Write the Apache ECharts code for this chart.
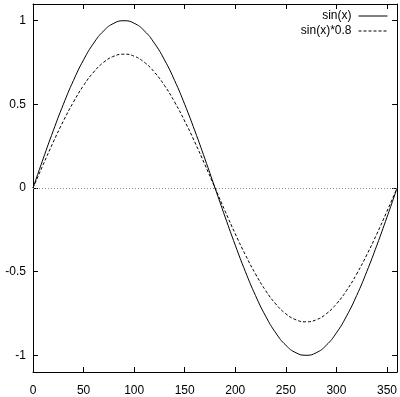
<!DOCTYPE html>
<html>
<head>
<meta charset="utf-8">
<script src="https://cdn.jsdelivr.net/npm/echarts@6/dist/echarts.min.js"></script>
<style>
  html, body { margin: 0; padding: 0; background: #fff; }
  #chart { width: 400px; height: 397px; }
</style>
</head>
<body>
<div id="chart"></div>
<script>
// x in degrees, sampled every 10
const angles = [0, 10, 20, 30, 40, 50, 60, 70, 80, 90, 100, 110, 120, 130, 140, 150, 160, 170, 180,
  190, 200, 210, 220, 230, 240, 250, 260, 270, 280, 290, 300, 310, 320, 330, 340, 350, 360];
const sinValues = [0, 0.174, 0.342, 0.5, 0.643, 0.766, 0.866, 0.94, 0.985, 1, 0.985, 0.94, 0.866, 0.766, 0.643, 0.5, 0.342, 0.174, 0,
  -0.174, -0.342, -0.5, -0.643, -0.766, -0.866, -0.94, -0.985, -1, -0.985, -0.94, -0.866, -0.766, -0.643, -0.5, -0.342, -0.174, 0];
const sin08Values = [0, 0.139, 0.274, 0.4, 0.514, 0.613, 0.693, 0.752, 0.788, 0.8, 0.788, 0.752, 0.693, 0.613, 0.514, 0.4, 0.274, 0.139, 0,
  -0.139, -0.274, -0.4, -0.514, -0.613, -0.693, -0.752, -0.788, -0.8, -0.788, -0.752, -0.693, -0.613, -0.514, -0.4, -0.274, -0.139, 0];
const xTicks = [0, 50, 100, 150, 200, 250, 300, 350];
const yTicks = [-1, -0.5, 0, 0.5, 1];
const seriesNames = ['sin(x)', 'sin(x)*0.8'];

const font = '"Liberation Sans Narrow", "Liberation Sans", Arial, sans-serif';

const toPairs = (vals) => angles.map((a, i) => [a, vals[i]]);

const baseX = {
  type: 'value',
  min: 0,
  max: 360,
  axisLine: { show: true, onZero: false, lineStyle: { color: '#000', width: 1 } },
  axisTick: { show: true, inside: true, length: 5, customValues: xTicks, lineStyle: { color: '#000' } },
  splitLine: { show: false }
};
const baseY = {
  type: 'value',
  min: -1.1,
  max: 1.1,
  axisLine: { show: true, onZero: false, lineStyle: { color: '#000', width: 1 } },
  axisTick: { show: true, inside: true, length: 5, customValues: yTicks, lineStyle: { color: '#000' } },
  splitLine: { show: false }
};

const chart = echarts.init(document.getElementById('chart'));
chart.setOption({
  animation: false,
  backgroundColor: '#fff',
  grid: { left: 33, top: 4, width: 368, height: 368, containLabel: false },
  legend: {
    orient: 'vertical',
    right: 7,
    top: 5,
    align: 'right',
    itemWidth: 29,
    itemHeight: 10,
    itemGap: 3,
    itemStyle: { opacity: 0 },
    lineStyle: { width: 1 },
    textStyle: { fontFamily: font, fontSize: 12, color: '#000', padding: [0, 2, 0, 0] },
    data: seriesNames
  },
  xAxis: [
    Object.assign({}, baseX, {
      position: 'bottom',
      axisLabel: { customValues: xTicks, margin: 13, color: '#000', fontFamily: font, fontSize: 12 }
    }),
    Object.assign({}, baseX, { position: 'top', axisLabel: { show: false } })
  ],
  yAxis: [
    Object.assign({}, baseY, {
      position: 'left',
      axisLabel: { customValues: yTicks, margin: 7, color: '#000', fontFamily: font, fontSize: 12 }
    }),
    Object.assign({}, baseY, { position: 'right', axisLabel: { show: false } })
  ],
  series: [
    {
      name: seriesNames[0],
      type: 'line',
      data: toPairs(sinValues),
      smooth: true,
      symbol: 'none',
      lineStyle: { color: '#000', width: 1 },
      itemStyle: { color: '#000' },
      markLine: {
        silent: true,
        symbol: 'none',
        label: { show: false },
        lineStyle: { color: '#888', type: [1, 2], width: 1 },
        data: [{ yAxis: 0 }]
      }
    },
    {
      name: seriesNames[1],
      type: 'line',
      data: toPairs(sin08Values),
      smooth: true,
      symbol: 'none',
      lineStyle: { color: '#000', width: 1, type: [3, 2] },
      itemStyle: { color: '#000' }
    }
  ]
});
</script>
</body>
</html>
